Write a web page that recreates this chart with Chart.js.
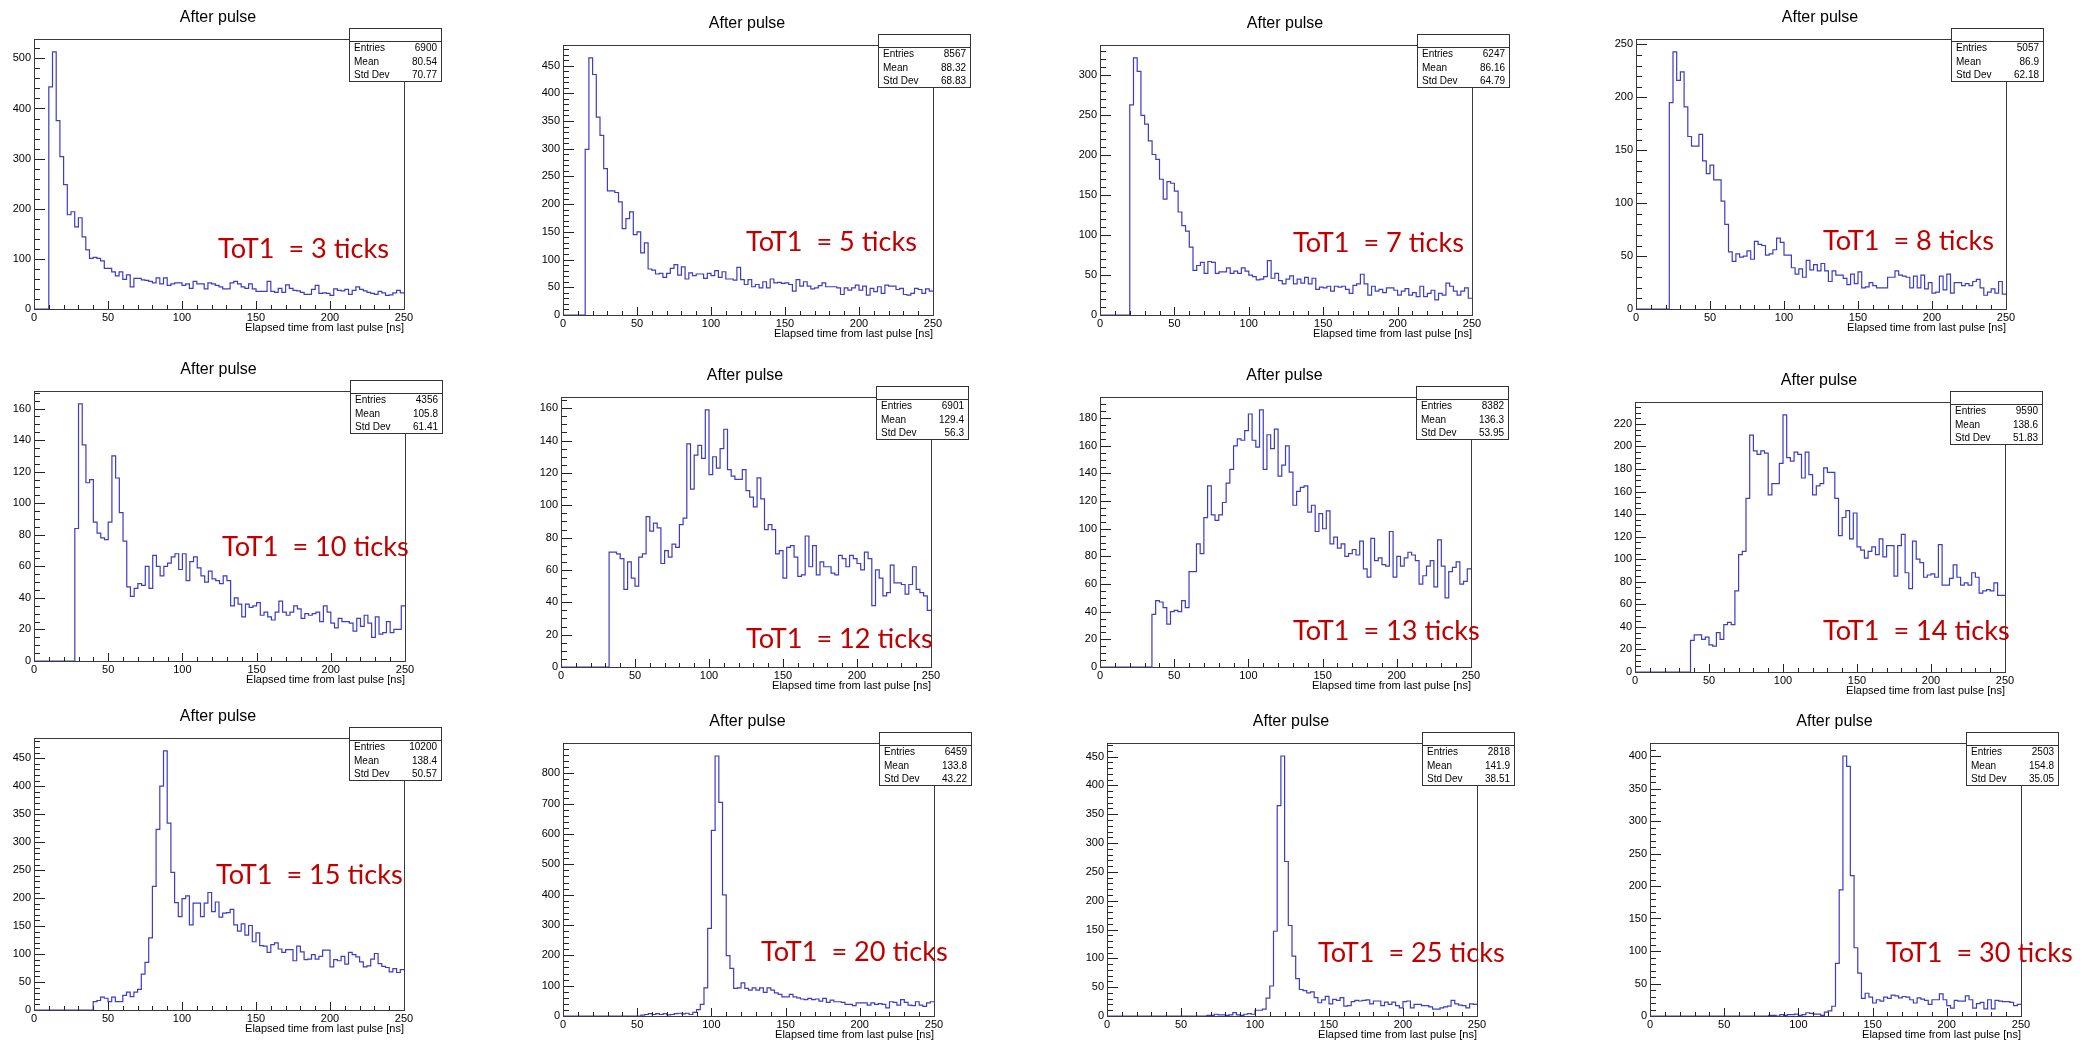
<!DOCTYPE html>
<html>
<head>
<meta charset="utf-8">
<title>After pulse</title>
<script src="https://cdn.jsdelivr.net/npm/chart.js@4.4.1/dist/chart.umd.min.js"></script>
<style>
  html, body { margin: 0; padding: 0; background: #ffffff; }
  #sheet { position: relative; width: 2088px; height: 1043px; overflow: hidden; background: #ffffff; }
  #sheet canvas { position: absolute; }
</style>
</head>
<body>
<div id="sheet"></div>
<script>
// ---------------- data ----------------
const binWidthNs = 2.5;
const xMinNs = 0;
const xMaxNs = 250;

const tot1Ticks = [3, 5, 7, 8, 10, 12, 13, 14, 15, 20, 25, 30];
const entries   = [6900, 8567, 6247, 5057, 4356, 6901, 8382, 9590, 10200, 6459, 2818, 2503];
const meanNs    = [80.54, 88.32, 86.16, 86.9, 105.8, 129.4, 136.3, 138.6, 138.4, 133.8, 141.9, 154.8];
const stdDevNs  = [70.77, 68.83, 64.79, 62.18, 61.41, 56.3, 53.95, 51.83, 50.57, 43.22, 38.51, 35.05];

// y-axis labelled step and minor-tick step for each histogram
const yLabelStep = [100, 50, 50, 50, 20, 20, 20, 20, 50, 100, 50, 50];
const yMinorStep = [20, 10, 10, 10, 5, 5, 5, 5, 10, 20, 10, 10];

// bin contents, 100 bins of 2.5 ns from 0 to 250 ns
const countsToT3 = [
  0, 0, 0, 0, 443, 513, 376, 304, 248, 188,
  194, 164, 182, 144, 118, 101, 103, 101, 96, 81,
  81, 74, 66, 74, 59, 68, 44, 61, 61, 58,
  57, 55, 52, 62, 50, 62, 47, 50, 52, 52,
  47, 50, 41, 55, 50, 50, 40, 52, 50, 47,
  44, 40, 40, 52, 55, 50, 44, 41, 50, 40,
  35, 35, 35, 55, 35, 33, 41, 33, 48, 41,
  37, 36, 33, 29, 29, 39, 47, 31, 32, 31,
  27, 40, 37, 36, 39, 29, 37, 44, 39, 36,
  33, 31, 29, 35, 32, 27, 28, 32, 37, 32
];
const countsToT5 = [
  0, 0, 0, 0, 0, 0, 299, 464, 434, 357,
  324, 264, 224, 224, 221, 204, 156, 174, 186, 145,
  150, 112, 130, 83, 81, 74, 75, 68, 75, 84,
  91, 72, 87, 65, 76, 71, 74, 74, 66, 75,
  71, 80, 68, 78, 65, 65, 63, 86, 64, 55,
  64, 51, 55, 49, 60, 49, 65, 58, 59, 57,
  58, 55, 43, 64, 52, 60, 52, 47, 49, 53,
  58, 51, 51, 51, 49, 37, 49, 45, 49, 54,
  45, 52, 36, 48, 42, 51, 39, 54, 52, 52,
  46, 48, 37, 36, 39, 48, 46, 39, 47, 43
];
const countsToT7 = [
  0, 0, 0, 0, 0, 0, 0, 0, 263, 322,
  305, 250, 239, 218, 201, 195, 170, 145, 167, 165,
  155, 129, 112, 105, 85, 56, 62, 66, 52, 67,
  66, 52, 54, 54, 59, 52, 55, 52, 59, 55,
  50, 48, 44, 45, 48, 68, 46, 52, 43, 39,
  45, 49, 39, 45, 40, 47, 39, 46, 32, 35,
  34, 36, 30, 36, 35, 36, 32, 27, 37, 39,
  51, 39, 25, 36, 30, 32, 28, 34, 34, 31,
  25, 30, 33, 25, 28, 23, 36, 23, 27, 31,
  19, 27, 25, 40, 36, 30, 25, 30, 34, 21
];
const countsToT8 = [
  0, 0, 0, 0, 0, 0, 0, 0, 0, 195,
  243, 216, 224, 191, 163, 154, 154, 165, 140, 128,
  136, 122, 122, 102, 80, 54, 45, 52, 49, 50,
  55, 47, 64, 61, 60, 51, 52, 56, 67, 63,
  51, 51, 39, 33, 38, 30, 46, 37, 42, 36,
  43, 36, 26, 36, 32, 32, 29, 23, 33, 24,
  35, 20, 21, 25, 22, 20, 20, 20, 30, 30,
  36, 32, 31, 30, 20, 31, 20, 32, 19, 25,
  15, 16, 31, 18, 33, 15, 25, 25, 22, 24,
  22, 26, 28, 20, 13, 16, 19, 15, 26, 14
];
const countsToT10 = [
  0, 0, 0, 0, 0, 0, 0, 0, 0, 0,
  0, 84, 163, 137, 113, 115, 88, 81, 78, 77,
  88, 130, 116, 94, 76, 47, 41, 46, 49, 48,
  60, 46, 67, 60, 54, 60, 62, 66, 68, 58,
  68, 51, 63, 66, 59, 54, 50, 57, 52, 51,
  49, 54, 51, 35, 40, 36, 28, 36, 34, 35,
  37, 29, 31, 28, 26, 31, 38, 31, 29, 31,
  35, 33, 27, 30, 29, 30, 31, 25, 35, 31,
  24, 21, 27, 25, 25, 24, 19, 27, 22, 29,
  24, 15, 28, 17, 18, 25, 18, 20, 20, 35
];
const countsToT12 = [
  0, 0, 0, 0, 0, 0, 0, 0, 0, 0,
  0, 0, 0, 71, 71, 70, 67, 48, 65, 55,
  50, 68, 70, 93, 84, 89, 86, 64, 72, 68,
  76, 74, 88, 92, 138, 110, 131, 137, 129, 159,
  119, 130, 123, 135, 147, 122, 118, 116, 116, 122,
  109, 105, 99, 117, 104, 85, 88, 85, 70, 72,
  55, 74, 75, 68, 56, 57, 81, 62, 75, 57,
  65, 62, 62, 58, 57, 69, 67, 62, 69, 67,
  64, 60, 71, 67, 38, 60, 55, 44, 46, 63,
  52, 52, 51, 45, 51, 62, 48, 46, 44, 35
];
const countsToT13 = [
  0, 0, 0, 0, 0, 0, 0, 0, 0, 0,
  0, 0, 0, 0, 38, 48, 47, 43, 31, 40,
  41, 40, 48, 43, 69, 69, 89, 82, 108, 131,
  110, 106, 110, 119, 133, 143, 160, 165, 164, 171,
  183, 164, 159, 186, 143, 168, 158, 172, 138, 146,
  160, 141, 117, 127, 130, 131, 112, 117, 98, 111,
  100, 113, 89, 94, 86, 89, 80, 82, 85, 81,
  91, 71, 65, 93, 77, 79, 74, 73, 98, 65,
  80, 73, 79, 83, 81, 77, 60, 66, 73, 77,
  58, 92, 73, 50, 69, 72, 76, 60, 62, 71
];
const countsToT14 = [
  0, 0, 0, 0, 0, 0, 0, 0, 0, 0,
  0, 0, 0, 0, 0, 28, 33, 33, 29, 31,
  24, 23, 35, 29, 42, 44, 42, 72, 104, 107,
  154, 210, 196, 193, 196, 194, 157, 167, 167, 185,
  228, 190, 187, 195, 193, 172, 195, 175, 157, 165,
  167, 181, 177, 177, 154, 121, 137, 143, 118, 141,
  111, 108, 101, 107, 111, 104, 118, 102, 112, 112,
  85, 112, 122, 88, 74, 116, 100, 97, 84, 86,
  87, 84, 113, 77, 77, 83, 95, 84, 77, 79,
  77, 88, 84, 70, 72, 73, 72, 79, 68, 68
];
const countsToT15 = [
  0, 0, 0, 0, 0, 0, 0, 0, 0, 0,
  0, 0, 0, 0, 0, 0, 15, 17, 23, 21,
  15, 23, 15, 15, 26, 32, 24, 32, 37, 64,
  85, 129, 221, 323, 400, 463, 334, 246, 192, 167,
  199, 204, 152, 191, 191, 167, 191, 210, 176, 193,
  166, 173, 174, 180, 152, 141, 154, 134, 151, 122,
  138, 115, 114, 103, 117, 120, 109, 103, 108, 108,
  88, 114, 104, 90, 91, 99, 91, 96, 107, 107,
  77, 90, 88, 96, 82, 103, 99, 95, 86, 77,
  79, 91, 101, 83, 78, 76, 68, 74, 67, 72
];
const countsToT20 = [
  0, 0, 0, 0, 0, 0, 0, 0, 0, 0,
  0, 0, 0, 0, 0, 0, 0, 0, 0, 0,
  0, 3, 5, 8, 5, 8, 5, 8, 4, 5,
  8, 9, 7, 9, 5, 12, 21, 38, 93, 289,
  612, 857, 704, 399, 199, 157, 91, 93, 109, 91,
  85, 93, 85, 93, 78, 93, 85, 76, 71, 63,
  63, 71, 63, 60, 56, 54, 58, 54, 56, 49,
  58, 45, 52, 47, 47, 45, 38, 38, 34, 43,
  43, 43, 36, 43, 38, 41, 38, 27, 47, 45,
  36, 54, 45, 36, 34, 47, 36, 32, 43, 47
];
const countsToT25 = [
  0, 0, 0, 0, 0, 0, 0, 0, 0, 0,
  0, 0, 0, 0, 0, 0, 0, 0, 0, 0,
  0, 0, 0, 0, 0, 0, 0, 1, 1, 3,
  2, 2, 1, 2, 6, 2, 1, 3, 4, 3,
  10, 10, 12, 31, 52, 147, 365, 451, 268, 157,
  104, 65, 46, 44, 40, 42, 32, 23, 28, 34,
  21, 29, 27, 32, 17, 18, 25, 27, 26, 27,
  28, 21, 26, 26, 18, 24, 20, 24, 18, 14,
  25, 26, 14, 20, 20, 18, 18, 16, 12, 12,
  14, 16, 17, 27, 21, 19, 18, 14, 21, 20
];
const countsToT30 = [
  0, 0, 0, 0, 0, 0, 0, 0, 0, 0,
  0, 0, 0, 0, 0, 0, 0, 0, 0, 0,
  0, 0, 0, 0, 0, 0, 0, 0, 0, 0,
  0, 0, 1, 1, 0, 2, 1, 2, 2, 3,
  1, 2, 5, 4, 3, 3, 1, 6, 8, 15,
  81, 194, 400, 384, 216, 105, 66, 27, 35, 29,
  20, 25, 23, 29, 27, 32, 31, 28, 30, 29,
  25, 20, 28, 26, 24, 18, 25, 25, 34, 25,
  16, 12, 24, 23, 23, 31, 25, 12, 19, 21,
  11, 25, 11, 24, 23, 22, 22, 21, 16, 18
];

const countsByPanel = [
  countsToT3, countsToT5, countsToT7, countsToT8,
  countsToT10, countsToT12, countsToT13, countsToT14,
  countsToT15, countsToT20, countsToT25, countsToT30
];

// ---------------- layout ----------------
const CELL_W = 522;
const CELL_H = 348;
const CANVAS_H = 360;
const Y_AXIS_W = 30;
const X_AXIS_H = 20;

// plot frame [left, top, right, bottom] of every pad, page pixels
const frames = [
  [34, 39, 404, 309],   [563, 45, 933, 315],   [1100, 45, 1472, 315],  [1636, 39, 2006, 309],
  [34, 391, 405, 661],  [561, 397, 931, 667],  [1100, 397, 1471, 667], [1635, 402, 2005, 672],
  [34, 738, 404, 1010], [563, 743, 934, 1016], [1107, 743, 1477, 1016], [1650, 743, 2021, 1016]
];
// left end and baseline of the red ToT1 captions, page pixels
const captionAnchors = [
  [218, 258], [746, 251], [1293, 252], [1823, 250],
  [222, 556], [746, 648], [1293, 640], [1823, 640],
  [216, 884], [761, 961], [1318, 962], [1886, 962]
];

const FONT = "'Liberation Sans', Arial, Helvetica, sans-serif";
const CAPTION_FONT = "Lato, 'Open Sans', sans-serif";
const LINE_BLUE = '#3c3cc4';
const AXIS_INK = '#222222';

// caption width scale so the label set in Lato keeps the slide's proportions
let captionStretch = null;
function getCaptionStretch(ctx) {
  if (captionStretch === null) {
    ctx.save();
    ctx.font = `27px ${CAPTION_FONT}`;
    const w = ctx.measureText('ToT1  = 3 ticks').width;
    ctx.restore();
    captionStretch = w > 0 ? 171 / w : 1;
  }
  return captionStretch;
}

// ROOT-style pad decoration: inward ticks, frame, title, stats box, caption
const rootPad = {
  id: 'rootPad',
  afterDatasetsDraw(chart, args, o) {
    const { ctx, chartArea: a, scales: { x, y } } = chart;
    ctx.save();
    ctx.lineWidth = 1;
    ctx.strokeStyle = AXIS_INK;
    ctx.beginPath();
    for (let n = 0; n * 10 <= xMaxNs; n++) {
      const v = n * 10;
      const px = Math.round(x.getPixelForValue(v)) + 0.5;
      const len = v % 50 === 0 ? 8 : 4;
      ctx.moveTo(px, a.bottom);
      ctx.lineTo(px, a.bottom - len);
    }
    for (let n = 0; n * o.minor <= y.max; n++) {
      const v = n * o.minor;
      const py = Math.round(y.getPixelForValue(v)) + 0.5;
      const len = v % o.major === 0 ? 11 : 6;
      ctx.moveTo(a.left, py);
      ctx.lineTo(a.left + len, py);
    }
    ctx.stroke();
    ctx.strokeStyle = '#3a3a3a';
    ctx.strokeRect(Math.round(a.left) + 0.5, Math.round(a.top) + 0.5,
                   Math.round(a.right - a.left), Math.round(a.bottom - a.top));
    ctx.restore();
  },
  afterDraw(chart, args, o) {
    const { ctx, chartArea: a } = chart;
    ctx.save();

    // pad title
    ctx.fillStyle = '#000';
    ctx.font = `16px ${FONT}`;
    ctx.textAlign = 'center';
    ctx.textBaseline = 'alphabetic';
    ctx.fillText('After pulse', (a.left + a.right) / 2 - 1, a.top - 17);

    // x-axis title, right aligned
    ctx.font = `11px ${FONT}`;
    ctx.textAlign = 'right';
    ctx.textBaseline = 'middle';
    ctx.fillText('Elapsed time from last pulse [ns]', a.right, a.bottom + 19);

    // statistics box
    const bx = Math.round(a.right) - 55;
    const by = Math.round(a.top) - 11;
    const bw = 92, bh = 53;
    ctx.fillStyle = '#fff';
    ctx.fillRect(bx, by, bw, bh);
    ctx.strokeStyle = '#333';
    ctx.lineWidth = 1;
    ctx.strokeRect(bx + 0.5, by + 0.5, bw, bh);
    ctx.beginPath();
    ctx.moveTo(bx, by + 13.5);
    ctx.lineTo(bx + bw, by + 13.5);
    ctx.stroke();
    ctx.fillStyle = '#000';
    ctx.font = `10px ${FONT}`;
    const rows = [['Entries', o.entries], ['Mean', o.mean], ['Std Dev', o.std]];
    rows.forEach(([name, val], r) => {
      const ty = by + 20.5 + r * 13.5;
      ctx.textAlign = 'left';
      ctx.fillText(name, bx + 5, ty);
      ctx.textAlign = 'right';
      ctx.fillText(String(val), bx + bw - 4, ty);
    });

    // red caption
    const s = getCaptionStretch(ctx);
    ctx.font = `27px ${CAPTION_FONT}`;
    ctx.fillStyle = '#c00000';
    ctx.textAlign = 'left';
    ctx.textBaseline = 'alphabetic';
    ctx.translate(o.caption[0], o.caption[1]);
    ctx.scale(s, 1);
    ctx.fillText(`ToT1  = ${o.ticks} ticks`, 0, 0);

    ctx.restore();
  }
};

const sheet = document.getElementById('sheet');

countsByPanel.forEach((counts, i) => {
  const col = i % 4;
  const row = Math.floor(i / 4);
  const ox = col * CELL_W;
  const oy = row * CELL_H;
  const [L, T, R, B] = frames[i];

  const canvas = document.createElement('canvas');
  canvas.width = CELL_W;
  canvas.height = CANVAS_H;
  canvas.style.left = ox + 'px';
  canvas.style.top = oy + 'px';
  canvas.style.width = CELL_W + 'px';
  canvas.style.height = CANVAS_H + 'px';
  sheet.appendChild(canvas);

  // step outline: each bin's low edge carries its content, closed at 250 ns
  const points = counts.map((c, k) => ({ x: xMinNs + k * binWidthNs, y: c }));
  points.push({ x: xMaxNs, y: counts[counts.length - 1] });
  const yMax = Math.max(...counts) * 1.05;
  const step = yLabelStep[i];

  const tickFont = { family: FONT, size: 11 };

  new Chart(canvas, {
    type: 'line',
    data: {
      datasets: [{
        data: points,
        stepped: true,
        borderColor: LINE_BLUE,
        borderWidth: 1.2,
        borderJoinStyle: 'miter',
        pointRadius: 0,
        fill: false,
        tension: 0
      }]
    },
    options: {
      responsive: false,
      animation: false,
      devicePixelRatio: 1,
      events: [],
      layout: {
        padding: {
          left: L - ox - Y_AXIS_W,
          top: T - oy,
          right: ox + CELL_W - R,
          bottom: oy + CANVAS_H - B - X_AXIS_H
        }
      },
      plugins: {
        legend: { display: false },
        title: { display: false },
        tooltip: { enabled: false },
        rootPad: {
          major: step,
          minor: yMinorStep[i],
          entries: entries[i],
          mean: meanNs[i],
          std: stdDevNs[i],
          ticks: tot1Ticks[i],
          caption: [captionAnchors[i][0] - ox, captionAnchors[i][1] - oy]
        }
      },
      scales: {
        x: {
          type: 'linear',
          min: xMinNs,
          max: xMaxNs,
          afterFit: (s) => { s.height = X_AXIS_H; },
          grid: { display: false, drawTicks: false },
          border: { display: false },
          ticks: {
            stepSize: 50,
            autoSkip: false,
            maxRotation: 0,
            includeBounds: false,
            padding: 2,
            color: '#000',
            font: tickFont
          }
        },
        y: {
          type: 'linear',
          min: 0,
          max: yMax,
          // labels only at whole multiples of the step
          afterBuildTicks: (s) => {
            const t = [];
            for (let n = 0; n * step <= s.max; n++) t.push({ value: n * step });
            s.ticks = t;
          },
          afterFit: (s) => { s.width = Y_AXIS_W; },
          grid: { display: false, drawTicks: false },
          border: { display: false },
          ticks: {
            stepSize: step,
            includeBounds: false,
            padding: 3,
            color: '#000',
            font: tickFont,
            callback: (v) => String(Math.round(v))
          }
        }
      }
    },
    plugins: [rootPad]
  });
});
</script>
</body>
</html>
